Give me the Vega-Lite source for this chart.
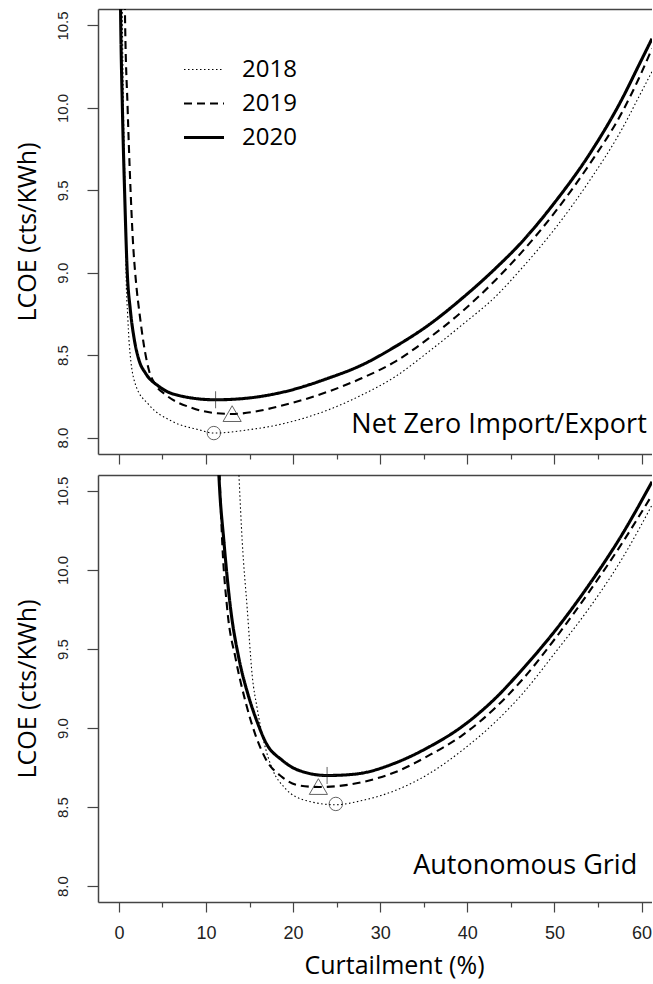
{
  "$schema": "https://vega.github.io/schema/vega-lite/v6.json",
  "background": "white",
  "padding": {"left": 14, "top": 9, "right": 0, "bottom": 5},
  "config": {
    "view": {"stroke": null},
    "font": "Open Sans",
    "axis": {
      "grid": false,
      "domainColor": "#444",
      "tickColor": "#444",
      "domainWidth": 1.5,
      "tickWidth": 1.2,
      "labelFont": "Liberation Sans",
      "labelColor": "#222",
      "titleFont": "Open Sans",
      "titleFontWeight": "normal",
      "titleColor": "black"
    }
  },
  "datasets": {
    "top": [
      {"year": "2020", "x": 0.15, "y": 10.8}, {"year": "2020", "x": 0.19, "y": 10.6}, {"year": "2020", "x": 0.4, "y": 10.0}, {"year": "2020", "x": 0.65, "y": 9.5}, {"year": "2020", "x": 0.96, "y": 9.0}, {"year": "2020", "x": 1.3, "y": 8.78}, {"year": "2020", "x": 1.75, "y": 8.6}, {"year": "2020", "x": 2.3, "y": 8.47}, {"year": "2020", "x": 3.06, "y": 8.39}, {"year": "2020", "x": 4.59, "y": 8.31}, {"year": "2020", "x": 7.27, "y": 8.25}, {"year": "2020", "x": 11.1, "y": 8.229}, {"year": "2020", "x": 14.93, "y": 8.24}, {"year": "2020", "x": 18.37, "y": 8.27}, {"year": "2020", "x": 24.1, "y": 8.361}, {"year": "2020", "x": 27.93, "y": 8.441}, {"year": "2020", "x": 31.77, "y": 8.553}, {"year": "2020", "x": 35.59, "y": 8.684}, {"year": "2020", "x": 39.41, "y": 8.845}, {"year": "2020", "x": 43.25, "y": 9.027}, {"year": "2020", "x": 46.3, "y": 9.189}, {"year": "2020", "x": 50.1, "y": 9.431}, {"year": "2020", "x": 53.96, "y": 9.714}, {"year": "2020", "x": 57.8, "y": 10.058}, {"year": "2020", "x": 59.7, "y": 10.26}, {"year": "2020", "x": 61.2, "y": 10.42},
      {"year": "2019", "x": 0.65, "y": 10.8}, {"year": "2019", "x": 0.69, "y": 10.6}, {"year": "2019", "x": 1.0, "y": 10.0}, {"year": "2019", "x": 1.3, "y": 9.55}, {"year": "2019", "x": 1.6, "y": 9.2}, {"year": "2019", "x": 1.95, "y": 8.95}, {"year": "2019", "x": 2.4, "y": 8.74}, {"year": "2019", "x": 2.87, "y": 8.56}, {"year": "2019", "x": 3.44, "y": 8.41}, {"year": "2019", "x": 4.2, "y": 8.32}, {"year": "2019", "x": 5.36, "y": 8.26}, {"year": "2019", "x": 8.42, "y": 8.179}, {"year": "2019", "x": 11.1, "y": 8.148}, {"year": "2019", "x": 13.0, "y": 8.143}, {"year": "2019", "x": 16.84, "y": 8.17}, {"year": "2019", "x": 18.37, "y": 8.189}, {"year": "2019", "x": 24.1, "y": 8.28}, {"year": "2019", "x": 27.93, "y": 8.361}, {"year": "2019", "x": 31.77, "y": 8.462}, {"year": "2019", "x": 35.59, "y": 8.603}, {"year": "2019", "x": 39.41, "y": 8.765}, {"year": "2019", "x": 43.25, "y": 8.956}, {"year": "2019", "x": 46.3, "y": 9.128}, {"year": "2019", "x": 50.1, "y": 9.37}, {"year": "2019", "x": 53.96, "y": 9.653}, {"year": "2019", "x": 57.8, "y": 9.977}, {"year": "2019", "x": 59.7, "y": 10.18}, {"year": "2019", "x": 61.2, "y": 10.36},
      {"year": "2018", "x": 0.34, "y": 10.8}, {"year": "2018", "x": 0.38, "y": 10.6}, {"year": "2018", "x": 0.52, "y": 10.0}, {"year": "2018", "x": 0.7, "y": 9.5}, {"year": "2018", "x": 0.84, "y": 8.95}, {"year": "2018", "x": 1.0, "y": 8.75}, {"year": "2018", "x": 1.2, "y": 8.56}, {"year": "2018", "x": 1.91, "y": 8.32}, {"year": "2018", "x": 3.44, "y": 8.199}, {"year": "2018", "x": 6.12, "y": 8.098}, {"year": "2018", "x": 9.18, "y": 8.047}, {"year": "2018", "x": 10.9, "y": 8.027}, {"year": "2018", "x": 14.9, "y": 8.047}, {"year": "2018", "x": 18.37, "y": 8.078}, {"year": "2018", "x": 24.1, "y": 8.169}, {"year": "2018", "x": 27.93, "y": 8.259}, {"year": "2018", "x": 31.77, "y": 8.371}, {"year": "2018", "x": 35.59, "y": 8.522}, {"year": "2018", "x": 39.41, "y": 8.684}, {"year": "2018", "x": 43.25, "y": 8.856}, {"year": "2018", "x": 46.3, "y": 9.03}, {"year": "2018", "x": 50.1, "y": 9.27}, {"year": "2018", "x": 53.96, "y": 9.553}, {"year": "2018", "x": 57.8, "y": 9.876}, {"year": "2018", "x": 59.7, "y": 10.068}, {"year": "2018", "x": 61.2, "y": 10.22}
    ],
    "bottom": [
      {"year": "2020", "x": 11.4, "y": 10.7}, {"year": "2020", "x": 11.48, "y": 10.6}, {"year": "2020", "x": 12.06, "y": 10.177}, {"year": "2020", "x": 12.82, "y": 9.756}, {"year": "2020", "x": 13.78, "y": 9.439}, {"year": "2020", "x": 14.85, "y": 9.207}, {"year": "2020", "x": 15.88, "y": 9.038}, {"year": "2020", "x": 16.84, "y": 8.911}, {"year": "2020", "x": 18.75, "y": 8.796}, {"year": "2020", "x": 20.67, "y": 8.732}, {"year": "2020", "x": 23.9, "y": 8.7}, {"year": "2020", "x": 26.4, "y": 8.705}, {"year": "2020", "x": 27.93, "y": 8.715}, {"year": "2020", "x": 31.77, "y": 8.78}, {"year": "2020", "x": 35.59, "y": 8.88}, {"year": "2020", "x": 39.41, "y": 9.01}, {"year": "2020", "x": 43.25, "y": 9.19}, {"year": "2020", "x": 46.3, "y": 9.37}, {"year": "2020", "x": 50.14, "y": 9.62}, {"year": "2020", "x": 53.96, "y": 9.905}, {"year": "2020", "x": 57.78, "y": 10.225}, {"year": "2020", "x": 61.2, "y": 10.557},
      {"year": "2019", "x": 11.5, "y": 10.7}, {"year": "2019", "x": 11.56, "y": 10.6}, {"year": "2019", "x": 11.86, "y": 10.177}, {"year": "2019", "x": 12.43, "y": 9.756}, {"year": "2019", "x": 13.4, "y": 9.439}, {"year": "2019", "x": 14.54, "y": 9.165}, {"year": "2019", "x": 15.69, "y": 8.954}, {"year": "2019", "x": 16.84, "y": 8.806}, {"year": "2019", "x": 18.75, "y": 8.69}, {"year": "2019", "x": 20.67, "y": 8.637}, {"year": "2019", "x": 22.96, "y": 8.627}, {"year": "2019", "x": 26.4, "y": 8.642}, {"year": "2019", "x": 27.93, "y": 8.658}, {"year": "2019", "x": 31.77, "y": 8.722}, {"year": "2019", "x": 35.59, "y": 8.827}, {"year": "2019", "x": 39.41, "y": 8.954}, {"year": "2019", "x": 43.25, "y": 9.13}, {"year": "2019", "x": 46.3, "y": 9.305}, {"year": "2019", "x": 50.14, "y": 9.57}, {"year": "2019", "x": 53.96, "y": 9.86}, {"year": "2019", "x": 57.78, "y": 10.17}, {"year": "2019", "x": 61.2, "y": 10.473},
      {"year": "2018", "x": 13.7, "y": 10.7}, {"year": "2018", "x": 13.78, "y": 10.6}, {"year": "2018", "x": 14.16, "y": 10.177}, {"year": "2018", "x": 14.73, "y": 9.756}, {"year": "2018", "x": 15.3, "y": 9.334}, {"year": "2018", "x": 15.88, "y": 9.123}, {"year": "2018", "x": 16.65, "y": 8.911}, {"year": "2018", "x": 17.6, "y": 8.743}, {"year": "2018", "x": 19.14, "y": 8.616}, {"year": "2018", "x": 21.44, "y": 8.542}, {"year": "2018", "x": 24.9, "y": 8.515}, {"year": "2018", "x": 27.93, "y": 8.542}, {"year": "2018", "x": 31.77, "y": 8.606}, {"year": "2018", "x": 35.59, "y": 8.711}, {"year": "2018", "x": 39.41, "y": 8.859}, {"year": "2018", "x": 43.25, "y": 9.04}, {"year": "2018", "x": 46.3, "y": 9.215}, {"year": "2018", "x": 50.14, "y": 9.481}, {"year": "2018", "x": 53.96, "y": 9.756}, {"year": "2018", "x": 57.78, "y": 10.072}, {"year": "2018", "x": 61.2, "y": 10.41}
    ],
    "topMin": [
      {"year": "2018", "x": 10.9, "y": 8.027},
      {"year": "2019", "x": 13.0, "y": 8.145},
      {"year": "2020", "x": 11.1, "y": 8.229}
    ],
    "bottomMin": [
      {"year": "2018", "x": 24.9, "y": 8.52},
      {"year": "2019", "x": 22.9, "y": 8.63},
      {"year": "2020", "x": 23.9, "y": 8.7}
    ]
  },
  "spacing": 10,
  "vconcat": [
    {
      "width": 554,
      "height": 445,
      "resolve": {"axis": {"x": "independent"}},
      "layer": [
        {
          "data": {"name": "top"},
          "mark": {"type": "line", "clip": true, "interpolate": "monotone", "color": "black", "strokeCap": "butt"},
          "encoding": {
            "x": {"field": "x", "type": "quantitative", "scale": {"domain": [-2.4, 61.2], "nice": false, "zero": false},
                  "axis": {"orient": "bottom", "values": [0, 10, 20, 30, 40, 50, 60], "labels": false, "tickSize": 10, "title": null}},
            "y": {"field": "y", "type": "quantitative", "scale": {"domain": [7.9, 10.6], "nice": false, "zero": false},
                  "axis": {"orient": "left", "values": [8, 8.5, 9, 9.5, 10, 10.5], "format": ".1f", "labelAngle": -90, "labelAlign": "center", "labelBaseline": "alphabetic", "labelFontSize": 15, "labelPadding": 20, "tickSize": 11, "title": "LCOE (cts/KWh)", "titleFontSize": 25, "titleBaseline": "alphabetic", "titlePadding": 20}},
            "strokeDash": {"field": "year", "type": "nominal", "scale": {"domain": ["2018", "2019", "2020"], "range": [[1.5, 2.5], [8, 5], [1, 0]]},
                  "legend": {"orient": "none", "legendX": 84, "legendY": 48, "title": null, "symbolType": "stroke", "symbolSize": 1600, "clipHeight": 25, "rowPadding": 9, "labelFont": "Open Sans", "labelFontSize": 24, "labelColor": "black", "labelOffset": 16, "symbolStrokeColor": "black"}},
            "strokeWidth": {"field": "year", "type": "ordinal", "scale": {"domain": ["2018", "2019", "2020"], "range": [1.1, 3.1]},
                  "legend": {"orient": "none", "legendX": 84, "legendY": 48, "title": null, "symbolType": "stroke", "symbolSize": 1600, "clipHeight": 25, "rowPadding": 9, "labelFont": "Open Sans", "labelFontSize": 24, "labelColor": "black", "labelOffset": 16, "symbolStrokeColor": "black"}}
          }
        },
        {
          "data": {"name": "topMin"},
          "transform": [{"filter": "datum.year === '2018'"}],
          "mark": {"type": "point", "shape": "circle", "size": 180, "filled": false, "color": "#222", "strokeWidth": 1},
          "encoding": {
            "x": {"field": "x", "type": "quantitative", "axis": {"orient": "bottom", "values": [5, 15, 25, 35, 45, 55], "labels": false, "domain": false, "tickSize": 5, "title": null}},
            "y": {"field": "y", "type": "quantitative"}
          }
        },
        {
          "data": {"name": "topMin"},
          "transform": [{"filter": "datum.year === '2019'"}],
          "mark": {"type": "point", "shape": "triangle-up", "size": 330, "filled": false, "color": "#222", "strokeWidth": 1},
          "encoding": {
            "x": {"field": "x", "type": "quantitative", "axis": null},
            "y": {"field": "y", "type": "quantitative"}
          }
        },
        {
          "data": {"name": "topMin"},
          "transform": [{"filter": "datum.year === '2020'"}],
          "mark": {"type": "point", "shape": "M-1,0H1M0,-1V1", "size": 289, "filled": false, "color": "#222", "strokeWidth": 1},
          "encoding": {
            "x": {"field": "x", "type": "quantitative", "axis": null},
            "y": {"field": "y", "type": "quantitative"}
          }
        },
        {
          "data": {"values": [{}]},
          "mark": {"type": "text", "align": "right", "baseline": "alphabetic", "font": "Open Sans", "fontSize": 27, "color": "black"},
          "encoding": {
            "x": {"datum": 60.6, "type": "quantitative", "axis": {"orient": "top", "ticks": false, "labels": false, "domain": true, "title": null}},
            "y": {"datum": 8.03, "type": "quantitative"},
            "text": {"value": "Net Zero Import/Export"}
          }
        }
      ]
    },
    {
      "width": 554,
      "height": 427,
      "resolve": {"axis": {"x": "independent"}},
      "layer": [
        {
          "data": {"name": "bottom"},
          "mark": {"type": "line", "clip": true, "interpolate": "monotone", "color": "black", "strokeCap": "butt"},
          "encoding": {
            "x": {"field": "x", "type": "quantitative", "scale": {"domain": [-2.4, 61.2], "nice": false, "zero": false},
                  "axis": {"orient": "bottom", "values": [0, 10, 20, 30, 40, 50, 60], "labelFontSize": 18, "labelPadding": 12, "tickSize": 10, "title": "Curtailment (%)", "titleFontSize": 25, "titleX": 296, "titlePadding": 11}},
            "y": {"field": "y", "type": "quantitative", "scale": {"domain": [7.9, 10.6], "nice": false, "zero": false},
                  "axis": {"orient": "left", "values": [8, 8.5, 9, 9.5, 10, 10.5], "format": ".1f", "labelAngle": -90, "labelAlign": "center", "labelBaseline": "alphabetic", "labelFontSize": 15, "labelPadding": 20, "tickSize": 11, "title": "LCOE (cts/KWh)", "titleFontSize": 25, "titleBaseline": "alphabetic", "titlePadding": 20}},
            "strokeDash": {"field": "year", "type": "nominal", "scale": {"domain": ["2018", "2019", "2020"], "range": [[1.5, 2.5], [8, 5], [1, 0]]}, "legend": null},
            "strokeWidth": {"field": "year", "type": "ordinal", "scale": {"domain": ["2018", "2019", "2020"], "range": [1.1, 3.1]}, "legend": null}
          }
        },
        {
          "data": {"name": "bottomMin"},
          "transform": [{"filter": "datum.year === '2018'"}],
          "mark": {"type": "point", "shape": "circle", "size": 180, "filled": false, "color": "#222", "strokeWidth": 1},
          "encoding": {
            "x": {"field": "x", "type": "quantitative", "axis": {"orient": "bottom", "values": [5, 15, 25, 35, 45, 55], "labels": false, "domain": false, "tickSize": 5, "title": null}},
            "y": {"field": "y", "type": "quantitative"}
          }
        },
        {
          "data": {"name": "bottomMin"},
          "transform": [{"filter": "datum.year === '2019'"}],
          "mark": {"type": "point", "shape": "triangle-up", "size": 330, "filled": false, "color": "#222", "strokeWidth": 1},
          "encoding": {
            "x": {"field": "x", "type": "quantitative", "axis": null},
            "y": {"field": "y", "type": "quantitative"}
          }
        },
        {
          "data": {"name": "bottomMin"},
          "transform": [{"filter": "datum.year === '2020'"}],
          "mark": {"type": "point", "shape": "M-1,0H1M0,-1V1", "size": 289, "filled": false, "color": "#222", "strokeWidth": 1},
          "encoding": {
            "x": {"field": "x", "type": "quantitative", "axis": null},
            "y": {"field": "y", "type": "quantitative"}
          }
        },
        {
          "data": {"values": [{}]},
          "mark": {"type": "text", "align": "right", "baseline": "alphabetic", "font": "Open Sans", "fontSize": 27, "color": "black"},
          "encoding": {
            "x": {"datum": 59.5, "type": "quantitative", "axis": {"orient": "top", "ticks": false, "labels": false, "domain": true, "title": null}},
            "y": {"datum": 8.08, "type": "quantitative"},
            "text": {"value": "Autonomous Grid"}
          }
        }
      ]
    }
  ]
}
